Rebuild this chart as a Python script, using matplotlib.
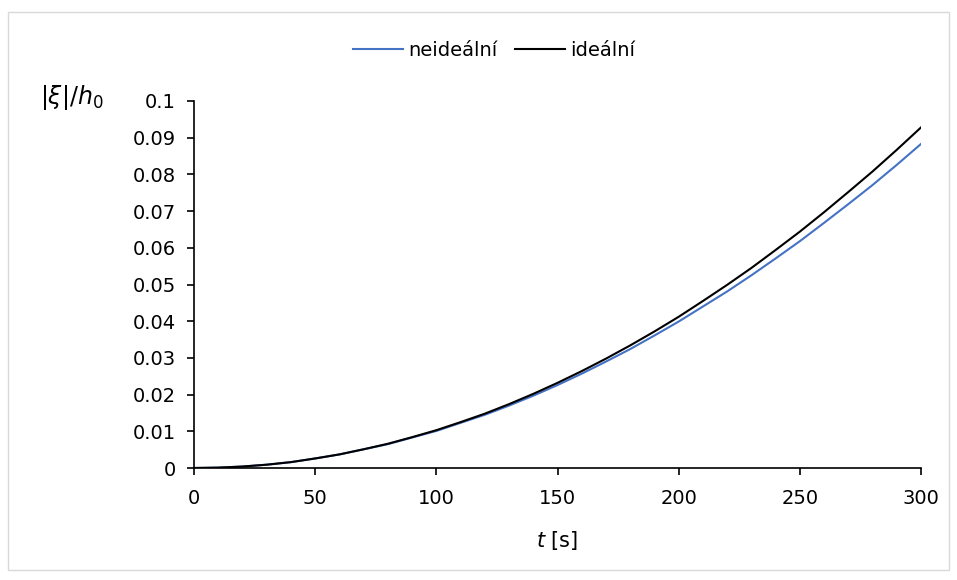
import matplotlib
matplotlib.use("Agg")
import matplotlib.pyplot as plt
from matplotlib.patches import Rectangle

plt.rcParams['font.family'] = ['DejaVu Sans']
plt.rcParams['mathtext.fontset'] = 'dejavusans'

# values
t = [0, 10, 20, 30, 40, 50, 60, 70, 80, 90, 100, 110, 120, 130, 140, 150,
     160, 170, 180, 190, 200, 210, 220, 230, 240, 250, 260, 270, 280, 290, 300]
neidealni = [0, 0.0001, 0.0004, 0.0009, 0.0016, 0.0026, 0.0037, 0.0051, 0.0065, 0.0083,
             0.0101, 0.0123, 0.0145, 0.0170, 0.0197, 0.0226, 0.0257, 0.0290, 0.0324, 0.0361,
             0.0399, 0.0440, 0.0481, 0.0525, 0.0571, 0.0618, 0.0668, 0.0719, 0.0771, 0.0826,
             0.0883]
idealni = [0, 0.0001, 0.0004, 0.0009, 0.0016, 0.0026, 0.0037, 0.0051, 0.0066, 0.0084,
           0.0103, 0.0125, 0.0148, 0.0174, 0.0202, 0.0232, 0.0264, 0.0298, 0.0334, 0.0372,
           0.0412, 0.0455, 0.0499, 0.0545, 0.0594, 0.0644, 0.0697, 0.0752, 0.0808, 0.0867,
           0.0928]
xticks = [0, 50, 100, 150, 200, 250, 300]
yticks = [0, 0.01, 0.02, 0.03, 0.04, 0.05, 0.06, 0.07, 0.08, 0.09, 0.1]
ylabels = ['0', '0.01', '0.02', '0.03', '0.04', '0.05', '0.06', '0.07', '0.08', '0.09', '0.1']

W, H = 957, 580
fig = plt.figure(figsize=(W / 100, H / 100), dpi=100)
fig.patches.append(Rectangle((8 / W, 10 / H), 941 / W, 558 / H, transform=fig.transFigure,
                             fill=False, edgecolor='#d9d9d9', linewidth=1))

ax = fig.add_axes([194 / W, 1 - 468 / H, (921 - 194) / W, (468 - 101) / H])
ax.plot(t, neidealni, color='#4472C4', linewidth=1.5, label='neideální')
ax.plot(t, idealni, color='black', linewidth=1.5, label='ideální')
ax.set_xlim(0, 300)
ax.set_ylim(0, 0.1)
ax.set_xticks(xticks)
ax.set_yticks(yticks)
ax.set_yticklabels(ylabels)
ax.spines['top'].set_visible(False)
ax.spines['right'].set_visible(False)
for s in ('left', 'bottom'):
    ax.spines[s].set_linewidth(1.2)
ax.tick_params(direction='out', length=5, width=1.2, labelsize=14)
ax.tick_params(axis='y', pad=8)
ax.tick_params(axis='x', pad=10)

fig.text(557 / W, 1 - 540 / H, r'$t$ [s]', ha='center', va='center', fontsize=15)
fig.text(72 / W, 1 - 97 / H, r'$|\xi|/h_{\mathrm{0}}$', ha='center', va='center', fontsize=17)

leg = ax.legend(loc='center', bbox_to_anchor=(494 / W, 1 - 50 / H), bbox_transform=fig.transFigure,
                ncol=2, frameon=False, fontsize=14, handlelength=2.6, handletextpad=0.25,
                columnspacing=0.9)

fig.savefig('out.png', dpi=100)
